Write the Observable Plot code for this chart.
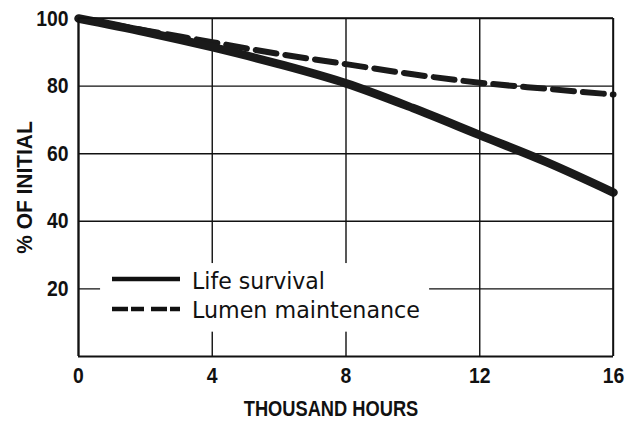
<!DOCTYPE html>
<html>
<head>
<meta charset="utf-8">
<script src="https://cdn.jsdelivr.net/npm/d3@7"></script>
<script src="https://cdn.jsdelivr.net/npm/@observablehq/plot@0.6"></script>
<style>
  html, body { margin: 0; padding: 0; background: #fff; }
  #chart svg { display: block; }
</style>
</head>
<body>
<div id="chart"></div>
<script>
// Data
const hours = [0, 2, 4, 6, 8, 10, 12, 14, 16];              // thousand hours
const lifeSurvival = [100, 96, 91.5, 86.5, 80.8, 73.5, 65.5, 57.5, 48.5];
const lumenMaintenance = [100, 96.5, 93, 89.5, 86.5, 83.5, 81, 79.2, 77.5];
const xTicks = [0, 4, 8, 12, 16];
const yTicks = [20, 40, 60, 80, 100];
const seriesNames = ["Life survival", "Lumen maintenance"];

const life = hours.map((h, i) => ({x: h, y: lifeSurvival[i]}));
const lumen = hours.map((h, i) => ({x: h, y: lumenMaintenance[i]}));

const font = "'Liberation Sans', Arial, sans-serif";

const plot = Plot.plot({
  width: 637,
  height: 423,
  marginLeft: 78,
  marginRight: 24,
  marginTop: 18,
  marginBottom: 67,
  style: {fontFamily: font, fontSize: "22px", fontWeight: "bold", color: "#111", background: "#fff"},
  x: {domain: [0, 16], ticks: xTicks, tickSize: 0, tickPadding: 11, label: null},
  y: {domain: [0, 100], ticks: yTicks, tickSize: 0, tickPadding: 10, label: null},
  marks: [
    Plot.gridX(xTicks, {stroke: "#111", strokeOpacity: 1, strokeWidth: 1.4}),
    Plot.gridY(yTicks, {stroke: "#111", strokeOpacity: 1, strokeWidth: 1.4}),
    Plot.line(lumen, {x: "x", y: "y", stroke: "#1a1a1a", strokeWidth: 6, strokeDasharray: "21,9", curve: "monotone-x"}),
    Plot.line(life, {x: "x", y: "y", stroke: "#1a1a1a", strokeWidth: 8.5, curve: "monotone-x"}),
    Plot.ruleX([0], {stroke: "#111", strokeWidth: 2.2}),
    Plot.ruleY([0], {stroke: "#111", strokeWidth: 2.2}),
    Plot.axisX({ticks: xTicks, tickSize: 0, tickPadding: 11, fontSize: 22, fontWeight: "bold", label: null}),
    Plot.axisY({ticks: yTicks, tickSize: 0, tickPadding: 10, fontSize: 22, fontWeight: "bold", label: null}),
    Plot.text(["THOUSAND HOURS"], {frameAnchor: "bottom", dy: 59, dx: -15, fontSize: 22, fontWeight: "bold", fill: "#111", textAnchor: "middle"}),
    Plot.text(["% OF INITIAL"], {frameAnchor: "left", dx: -54, rotate: -90, fontSize: 22, fontWeight: "bold", fill: "#111", textAnchor: "middle"})
  ]
});

document.getElementById("chart").appendChild(plot);

const svg = d3.select(plot);
// condense the bold labels (narrow Helvetica look)
svg.selectAll("text").each(function() {
  const t = d3.select(this);
  const txt = this.textContent;
  let k = 0.88;
  if (txt === "THOUSAND HOURS") k = 0.83;
  if (txt === "% OF INITIAL") k = 0.95;
  const len = this.getComputedTextLength();
  if (len > 0) t.attr("textLength", len * k).attr("lengthAdjust", "spacingAndGlyphs");
});

// Legend (white box interrupting the grid), positioned via the plot's scales
const sx = plot.scale("x"), sy = plot.scale("y");
const g = svg.append("g");
const bx0 = sx.apply(0.66), bx1 = sx.apply(10.5);
const by0 = sy.apply(27.5), by1 = sy.apply(7.2);
g.append("rect").attr("x", bx0).attr("y", by0).attr("width", bx1 - bx0).attr("height", by1 - by0).attr("fill", "#fff");
// top/right frame lines
g.append("line").attr("x1", sx.apply(0)).attr("x2", sx.apply(16)).attr("y1", sy.apply(100)).attr("y2", sy.apply(100)).attr("stroke", "#111").attr("stroke-width", 1.6);
g.append("line").attr("x1", sx.apply(16)).attr("x2", sx.apply(16)).attr("y1", sy.apply(100)).attr("y2", sy.apply(0)).attr("stroke", "#111").attr("stroke-width", 1.6);

const styles = [{w: 4.5, dash: null}, {w: 4.5, dash: "16,3,13,7"}];
const rows = [279, 309];
const baselines = [289, 318];
const lengths = [133, 228];
seriesNames.forEach((name, i) => {
  const yy = rows[i];
  g.append("line").attr("x1", 112).attr("x2", 180).attr("y1", yy).attr("y2", yy)
    .attr("stroke", "#111").attr("stroke-width", styles[i].w)
    .attr("stroke-dasharray", styles[i].dash);
  g.append("text").attr("x", 192).attr("y", baselines[i])
    .attr("text-anchor", "start")
    .attr("font-family", "'DejaVu Sans', sans-serif").attr("font-size", 23).attr("font-weight", "normal")
    .attr("textLength", lengths[i]).attr("lengthAdjust", "spacingAndGlyphs")
    .attr("fill", "#111").text(name);
});
</script>
</body>
</html>
